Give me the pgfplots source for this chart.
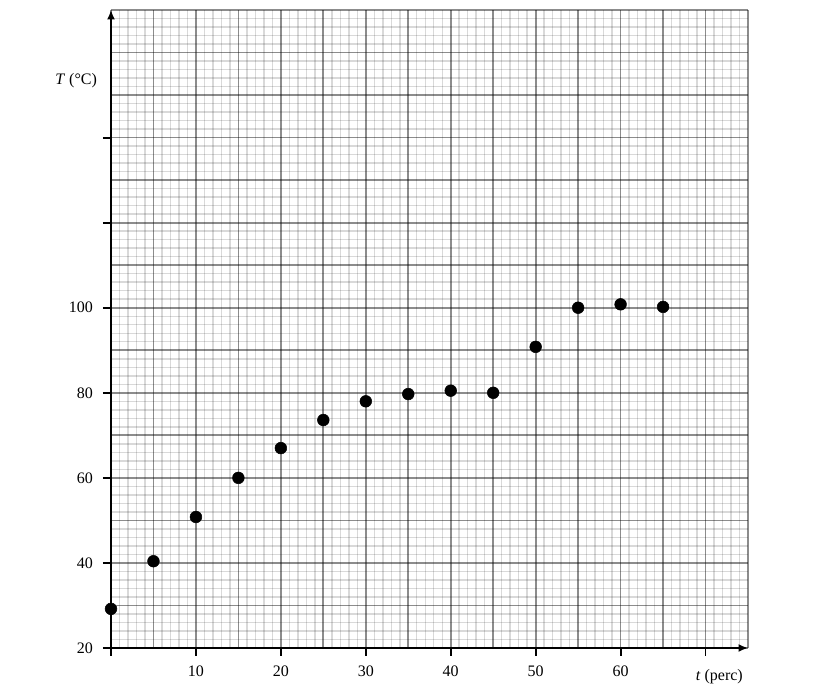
\documentclass[border=0pt]{standalone}
\usepackage{fontspec}
\setmainfont{Liberation Serif}
\usepackage{pgfplots}
\pgfplotsset{compat=1.18}
\usetikzlibrary{arrows.meta}
\begin{document}
\begin{tikzpicture}
\begin{axis}[
  width=477.75pt, height=478.5pt, scale only axis,
  xmin=0, xmax=75, ymin=20, ymax=170,
  axis x line=bottom, axis y line=left,
  axis line style={black, line width=1.6pt, -{Latex[length=7pt,width=6pt]}},
  xtick={0,5,...,75}, ytick={20,30,...,170},
  xticklabels={}, yticklabels={},
  minor x tick num=4, minor y tick num=4,
  major tick length=0pt, minor tick length=0pt,
  grid=both,
  minor grid style={draw=black, draw opacity=0.15, line width=1.1pt},
  major grid style={draw=black, draw opacity=0.45, line width=1.3pt},
  extra x ticks={0,10,...,70},
  extra x tick labels={,10,20,30,40,50,60,},
  extra y ticks={20,40,...,140},
  extra y tick labels={20,40,60,80,100,,},
  extra x tick style={grid=none, major tick length=6pt, tick align=outside, tick style={black, line width=1.4pt}},
  extra y tick style={grid=none, major tick length=6pt, tick align=outside, tick style={black, line width=1.4pt}},
  /pgf/number format/assume math mode=true,
  tick label style={font=\fontsize{12}{14}\selectfont, text=black},
  xticklabel style={yshift=-3.5pt},
  yticklabel style={xshift=-4pt},
  xlabel={\textit{t} (perc)},
  xlabel style={at={(axis description cs:0.955,0)}, anchor=center, yshift=-21.75pt, font=\fontsize{12}{14}\selectfont},
  ylabel={\textit{T} (°C)},
  ylabel style={at={(axis description cs:0,0.89)}, anchor=east, rotate=-90, xshift=-7pt, font=\fontsize{12}{14}\selectfont},
  clip=false,
]
\addplot[only marks, mark=*, mark size=4.4pt, black] coordinates {
 (0,29.2) (5,40.4) (10,50.8) (15,60) (20,67) (25,73.6) (30,78)
 (35,79.7) (40,80.5) (45,80) (50,90.8) (55,100) (60,100.8) (65,100.2)
};
\end{axis}
\pgfresetboundingbox
\path[use as bounding box] (-83.25pt,-38.25pt) rectangle (537.75pt,486pt);
\end{tikzpicture}
\end{document}
